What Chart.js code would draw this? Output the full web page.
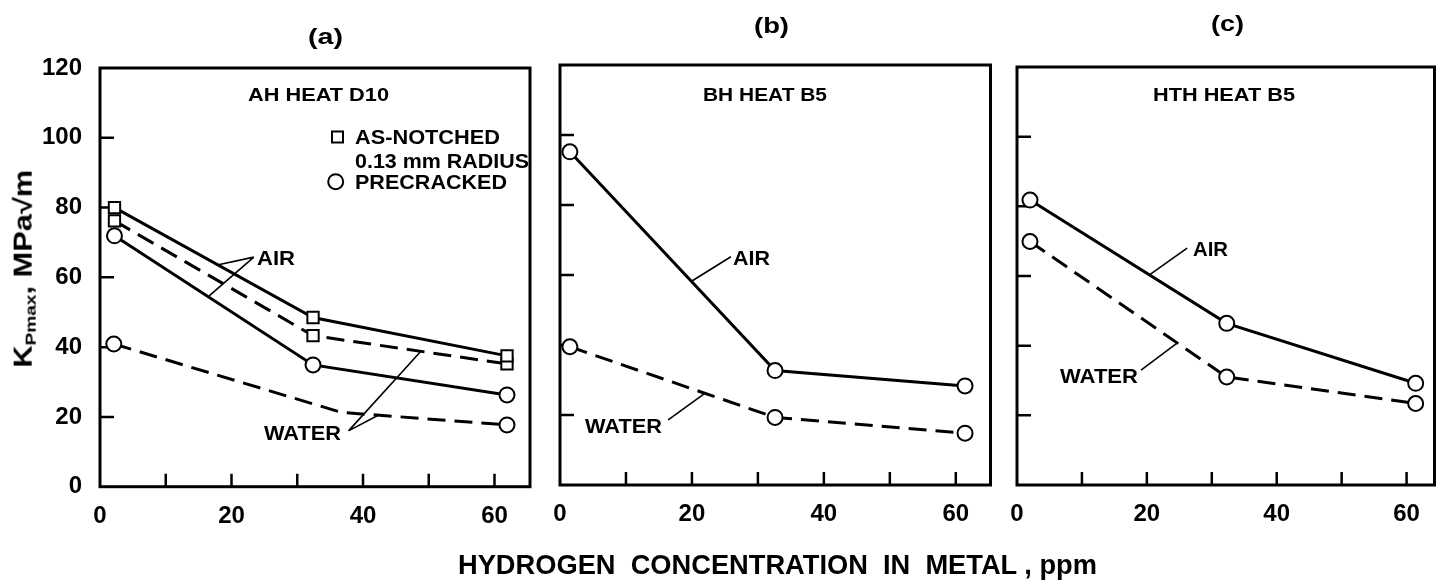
<!DOCTYPE html>
<html><head><meta charset="utf-8">
<script src="https://cdn.jsdelivr.net/npm/chart.js@4.4.1/dist/chart.umd.min.js"></script>
<style>
html,body{margin:0;padding:0;background:#fff;}
#wrap{position:relative;width:1444px;height:581px;overflow:hidden;background:#fff;font-family:'Liberation Sans',Arial,sans-serif;font-weight:bold;color:#000;}
canvas{position:absolute;top:0;}
.t{position:absolute;white-space:nowrap;line-height:1;transform-origin:0 0;}
sub{font-size:0.62em;vertical-align:-0.25em;}
</style></head><body><div id="wrap">
<canvas id="ca" width="540" height="581" style="left:0"></canvas>
<canvas id="cb" width="460" height="581" style="left:540px"></canvas>
<canvas id="cc" width="444" height="581" style="left:1000px"></canvas>
</div>
<script>
// ---------- data ----------
const yTickValues = [0, 20, 40, 60, 80, 100, 120];
const xTickValues = [0, 20, 40, 60];

// Panel (a) AH HEAT D10
const aNotchedAirX = [2.2, 32.4, 61.9];
const aNotchedAirY = [80.0, 48.5, 37.5];
const aNotchedWaterX = [2.2, 32.4, 61.9];
const aNotchedWaterY = [76.2, 43.3, 35.2];
const aPrecrackedAirX = [2.2, 32.4, 61.9];
const aPrecrackedAirY = [71.9, 34.9, 26.3];
const aPrecrackedWaterX = [2.1, 36.7, 61.9];
const aPrecrackedWaterY = [40.9, 21.3, 17.7];

// Panel (b) BH HEAT B5
const bAirX = [1.5, 32.6, 61.4];
const bAirY = [95.2, 32.7, 28.3];
const bWaterX = [1.5, 32.6, 61.4];
const bWaterY = [39.5, 19.3, 14.8];

// Panel (c) HTH HEAT B5
const cAirX = [2.0, 32.3, 61.4];
const cAirY = [81.8, 46.4, 29.2];
const cWaterX = [2.0, 32.3, 61.4];
const cWaterY = [69.9, 31.0, 23.4];

// leader lines (data coordinates) for AIR / WATER labels
const aLeaders = [[23.4, 65.8, 18.0, 63.6], [23.4, 65.8, 16.6, 54.7], [37.8, 16.0, 48.7, 38.6], [37.8, 16.0, 42.3, 20.5]];
const bLeaders = [[25.9, 65.2, 20.0, 58.3], [16.4, 18.6, 21.9, 26.1]];
const cLeaders = [[26.2, 68.0, 20.4, 60.3], [19.1, 33.0, 24.7, 40.8]];

// ---------- helpers ----------
const DASH = [18, 9];
function pts(xs, ys) { return xs.map((x, i) => ({ x: x, y: ys[i] })); }
function ds(label, xs, ys, style, dashed, radii) {
  return {
    label: label, data: pts(xs, ys), borderColor: '#000', backgroundColor: '#fff',
    borderWidth: 3, borderDash: dashed ? DASH : [], pointStyle: style,
    pointRadius: radii || (style === 'rect' ? 8 : 7.5), pointBorderWidth: 2,
    pointBackgroundColor: '#fff', pointBorderColor: '#000', showLine: true, tension: 0, fill: false
  };
}
function framePlugin(leaders, legend) {
  return {
    id: 'frame',
    beforeDatasetsDraw(chart) {
      const ctx = chart.ctx, a = chart.chartArea, x = chart.scales.x, y = chart.scales.y;
      ctx.save();
      ctx.strokeStyle = '#000';
      ctx.lineWidth = 3;
      ctx.strokeRect(a.left, a.top, a.right - a.left, a.bottom - a.top);
      ctx.lineWidth = 2.5;
      ctx.beginPath();
      for (let v = 10; v <= 60; v += 10) {
        const px = x.getPixelForValue(v);
        ctx.moveTo(px, a.bottom); ctx.lineTo(px, a.bottom - 13);
      }
      for (let v = 20; v <= 100; v += 20) {
        const py = y.getPixelForValue(v);
        ctx.moveTo(a.left, py); ctx.lineTo(a.left + 14, py);
      }
      ctx.stroke();
      ctx.lineWidth = 1.6;
      ctx.beginPath();
      leaders.forEach(l => {
        ctx.moveTo(x.getPixelForValue(l[0]), y.getPixelForValue(l[1]));
        ctx.lineTo(x.getPixelForValue(l[2]), y.getPixelForValue(l[3]));
      });
      ctx.stroke();
      if (legend) {
        ctx.lineWidth = 2;
        ctx.fillStyle = '#fff';
        ctx.beginPath(); ctx.rect(332, 131.5, 11, 11); ctx.fill(); ctx.stroke();
        ctx.beginPath(); ctx.arc(335.7, 181.7, 7.5, 0, Math.PI * 2); ctx.fill(); ctx.stroke();
      }
      ctx.restore();
    }
  };
}
const tickFont = { family: 'Liberation Sans', size: 24, weight: 'bold' };
const xTickFont = { family: 'Liberation Sans', size: 24, weight: 'bold', lineHeight: 2.3 };
function makeChart(id, datasets, o) {
  return new Chart(document.getElementById(id), {
    type: 'line',
    data: { datasets: datasets },
    options: {
      responsive: false, animation: false, devicePixelRatio: 1,
      layout: { padding: { left: 0, right: o.padRight, top: o.top, bottom: 581 - o.bottom - 40 } },
      plugins: { legend: { display: false }, tooltip: { enabled: false }, title: { display: false } },
      scales: {
        x: {
          type: 'linear', min: 0, max: o.xMax,
          grid: { display: false, drawTicks: false }, border: { display: false },
          afterBuildTicks: s => { s.ticks = xTickValues.map(v => ({ value: v })); },
          ticks: { autoSkip: false, maxRotation: 0, padding: 2, color: '#000', font: xTickFont },
          afterFit: s => { s.height = 40; }
        },
        y: {
          type: 'linear', min: 0, max: 120,
          grid: { display: false, drawTicks: false }, border: { display: false },
          afterBuildTicks: s => { s.ticks = yTickValues.map(v => ({ value: v })); },
          ticks: { display: o.yLabels, padding: 18, color: '#000', font: tickFont },
          afterFit: s => { s.width = o.yWidth; }
        }
      }
    },
    plugins: [framePlugin(o.leaders, o.legend)]
  });
}

makeChart('ca', [
  ds('As-notched, air', aNotchedAirX, aNotchedAirY, 'rect', false),
  ds('As-notched, water', aNotchedWaterX, aNotchedWaterY, 'rect', true),
  ds('Precracked, air', aPrecrackedAirX, aPrecrackedAirY, 'circle', false),
  ds('Precracked, water', aPrecrackedWaterX, aPrecrackedWaterY, 'circle', true, [7.5, 0, 7.5])
], { padRight: 4, top: 68, bottom: 486.7, xMax: 65.4, yWidth: 100, yLabels: true, leaders: aLeaders, legend: true });

makeChart('cb', [
  ds('Air', bAirX, bAirY, 'circle', false),
  ds('Water', bWaterX, bWaterY, 'circle', true)
], { padRight: 8, top: 65, bottom: 485, xMax: 65.26, yWidth: 20, yLabels: false, leaders: bLeaders, legend: false });

makeChart('cc', [
  ds('Air', cAirX, cAirY, 'circle', false),
  ds('Water', cWaterX, cWaterY, 'circle', true)
], { padRight: 1, top: 67, bottom: 485, xMax: 64.3, yWidth: 17, yLabels: false, leaders: cLeaders, legend: false });

// ---------- text ----------
const wrap = document.getElementById('wrap');
function addText(html, x, y, size, w, anchor) {
  const d = document.createElement('div');
  d.className = 't';
  d.innerHTML = html;
  d.style.fontSize = size + 'px';
  wrap.appendChild(d);
  const nat = d.getBoundingClientRect().width;
  const k = w ? w / nat : 1;
  const left = anchor === 'center' ? x - (w || nat) / 2 : x;
  d.style.left = left + 'px';
  d.style.top = y + 'px';
  d.style.transform = 'translateY(-50%) scaleX(' + k + ')';
  return d;
}
addText('(a)', 325.5, 37, 22, 35, 'center');
addText('(b)', 771, 26, 22, 35, 'center');
addText('(c)', 1227, 24, 22, 33, 'center');
addText('AH HEAT D10', 248, 95, 18, 141);
addText('BH HEAT B5', 703, 95, 18, 124);
addText('HTH HEAT B5', 1153, 95, 18, 142);
addText('AS-NOTCHED', 355, 137, 20, 145);
addText('0.13 mm RADIUS', 355, 161, 20, 174);
addText('PRECRACKED', 355, 182, 20, 152);
addText('AIR', 257, 257, 21, 38);
addText('WATER', 264, 432, 21, 77);
addText('AIR', 733, 257, 21, 37);
addText('WATER', 585, 425, 21, 77);
addText('AIR', 1193, 248, 21, 35);
addText('WATER', 1060, 375, 21, 78);
const xt = addText('HYDROGEN&nbsp; CONCENTRATION&nbsp; IN&nbsp; METAL , ppm', 458, 565, 27, 639);

// rotated y-axis title
(function () {
  const d = document.createElement('div');
  d.className = 't';
  d.innerHTML = 'K<sub>Pmax</sub>, MPa√m';
  d.style.fontSize = '25px';
  wrap.appendChild(d);
  const r = d.getBoundingClientRect();
  const k = 198 / r.width;
  d.style.left = (24 - r.width / 2) + 'px';
  d.style.top = (269 - r.height / 2) + 'px';
  d.style.transformOrigin = '50% 50%';
  d.style.transform = 'rotate(-90deg) scaleX(' + k + ')';
})();
</script>
</body></html>
